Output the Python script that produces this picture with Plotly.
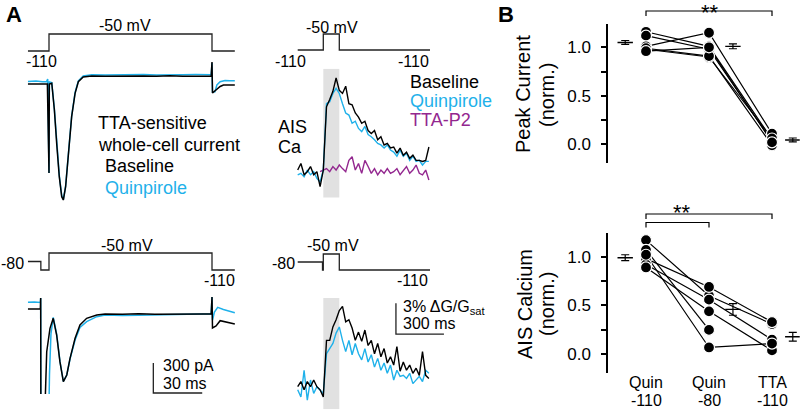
import plotly.graph_objects as go

W, H = 800, 410
FONT = "Liberation Sans, Arial, sans-serif"
BLUE = "#1fb1ea"
PURPLE = "#93278f"
GRAY = "#e1e1e1"
PROTO = "#222222"

# ---------------- DATA ----------------
# Panel A, top-left: TTA-sensitive whole-cell current (time ms, current pA)
ephys1_black_t = [-13, -8, -4, -1, 0, 0.2, 1.7, 3.3, 4.7, 6.3, 7.8, 8.8, 10.2, 11.8, 13.9, 16, 18, 21, 26.2,
                  34.4, 42, 50, 58, 66, 74, 82, 90, 99.5, 100, 100.3, 101, 102.9, 105, 107, 110, 113, 114]
ephys1_black_i = [-110, -112, -108, -110, -1000, -110, -103, -370, -703, -1037, -1237, -1270, -1137, -803, -437,
                  -203, -87, -40, -30, -32, -30, -34, -29, -32, -28, -33, -30, -31, 110, -200, -190, -163, -135,
                  -120, -118, -122, -120]
ephys1_blue_t = [-13, -8, -4, -1.5, -0.8, 0, 0.2, 1.7, 3.3, 4.7, 6.3, 7.8, 8.8, 10.2, 11.8, 13.9, 16, 18, 21,
                 26.2, 34.4, 42, 50, 58, 66, 74, 82, 90, 99.5, 100, 100.3, 101.8, 103, 105, 108, 111, 114]
ephys1_blue_i = [-85, -80, -88, -85, -60, -1000, -90, -95, -360, -690, -1020, -1225, -1265, -1130, -800, -430,
                 -195, -80, -30, -18, -20, -17, -21, -16, -19, -15, -18, -16, -17, 100, -190, -187, -120, -87, -75,
                 -78, -77]

# Panel A, bottom-left (offscale values below the visible range)
ephys2_black_t = [-13, -9, -5.3, -5.1, -5.0, -2.4, -1.4, 0.6, 2.6, 4.7, 6.7, 8.8, 10.9, 12.9, 16, 19, 23.1, 29.3,
                  34.4, 45, 55, 65, 75, 85, 95, 99.5, 100, 100.3, 102.5, 105, 109, 114]
ephys2_black_i = [50, 48, 50, 160, -900, -900, -377, -143, -43, -210, -477, -677, -610, -443, -243, -110, -43,
                  -10, 0, -3, 2, -2, 1, -1, 0, 0, 170, -140, -120, -67, -85, -100]
ephys2_blue_t = [-13, -9, -5.3, -5.1, -5.0, 0, 0.3, 1.2, 2.6, 4.7, 6.7, 8.8, 10.9, 12.9, 16, 19, 23.1, 29.3,
                 34.4, 45, 55, 65, 75, 85, 95, 99.5, 100, 100.3, 101.5, 103.5, 107, 114]
ephys2_blue_i = [117, 120, 115, 160, -900, -900, -600, -200, -33, -200, -470, -675, -610, -450, -260, -135, -77,
                 -27, -10, -15, -12, -8, -3, -2, 0, 2, 170, -60, 20, 67, 45, 13]

# Voltage protocols (ms, mV)
proto_e1_t = [-13, 0, 0, 100, 100, 114]
proto_e1_v = [-110, -110, -50, -50, -110, -110]
proto_e2_t = [-13, -5, -5, 0, 0, 100, 100, 114]
proto_e2_v = [-80, -80, -110, -110, -50, -50, -110, -110]
proto_c1_t = [-160, 0, 0, 100, 100, 667]
proto_c1_v = [-110, -110, -50, -50, -110, -110]
proto_c2_t = [-160, -5, -5, 0, 0, 100, 100, 667]
proto_c2_v = [-80, -80, -110, -110, -50, -50, -110, -110]
PULSE_MS = [0, 100]

# AIS calcium (% dG/Gsat), sampled every 20 ms from -160 ms
ca_t = list(range(-160, 661, 20))
ca1_black = [0.16, 0.8, -0.3, 0.0, 0.5, -0.3, 0.0, -1.45, 0.16, 6.3, 7.0, 7.8, 9.1, 7.9, 7.6, 8.3, 6.6, 6.5, 5.7,
             5.3, 4.7, 4.9, 4.0, 3.7, 4.0, 3.1, 3.4, 2.6, 2.75, 2.3, 2.4, 1.8, 2.3, 1.6, 1.9, 1.3, 1.6, 1.1, 1.1,
             1.0, 1.1, 2.4]
ca1_blue = [-0.3, -0.16, -0.5, 0.16, -0.3, 0, -0.65, -1.0, 0.16, 6.6, 6.8, 7.6, 8.1, 7.6, 6.6, 5.7, 5.5, 4.7, 4.9,
            4.2, 3.9, 4.4, 3.6, 3.4, 3.1, 2.75, 2.6, 2.3, 2.6, 2.1, 1.9, 1.5, 2.1, 1.5, 1.8, 1.1, 1.5, 1.0, 1.1,
            0.65, 1.0, 1.0]
ca1_purple_t = list(range(-20, 661, 20))
ca1_purple = [0.0, 0.16, 0.3, 0, 0.5, 0.16, 0.65, 0.3, 0, 1.1, 1.45, 0.16, 0.8, -0.16, 1.1, 0.5, -0.16, 0.3, -0.3,
              0.16, -0.16, 0.3, -0.16, 0, 0.3, -0.3, 0.16, 0.5, -0.16, 0.16, 0.65, -0.16, -0.3, 0.16, -0.8]
ca2_black = [0, 0.5, -0.3, 0.5, 0, 0.65, 0, -0.3, -1.0, 4.5, 4.5, 5.8, 6.5, 7.4, 7.8, 6.3, 6.5, 5.7, 4.5, 5.3,
             4.4, 5.5, 4.0, 4.5, 3.2, 4.2, 2.9, 3.7, 2.3, 2.9, 2.1, 3.9, 1.5, 2.4, 1.6, 2.1, 1.3, 1.8, 1.1, 3.4,
             1.1, 0.8]
ca2_blue = [-0.3, -1.0, 1.6, -1.3, 0.65, -0.65, 0, -0.3, -0.65, 3.2, 3.7, 4.2, 5.2, 5.8, 4.5, 3.4, 4.5, 3.1, 4.2,
            3.2, 2.6, 3.7, 2.4, 3.1, 1.9, 2.75, 1.6, 2.3, 1.3, 2.1, 0.65, 1.6, 1.0, 1.1, 0.8, 1.3, 0.3, 0.65, 1.0,
            0.5, 1.6, 1.3]

# Scale bars
EPHYS_SCALE_MS, EPHYS_SCALE_PA = 30, 300
CA_SCALE_MS, CA_SCALE_PCT = 300, 3

# Panel B
categories = [1, 2, 3]
cat_line1 = ["Quin", "Quin", "TTA"]
cat_line2 = ["-110", "-80", "-110"]
peak_quin110 = [1.16, 1.12, 1.01, 0.98, 0.99, 0.96]
peak_quin80 = [1.01, 0.98, 1.15, 0.90, 0.91, 1.00]
peak_tta = [0.05, 0.03, 0.11, 0.06, -0.01, 0.02]
peak_mean = [1.05, 1.01, 0.045]
peak_sem = [0.02, 0.025, 0.02]
ca_quin110 = [1.17, 1.07, 0.98, 0.92, 0.89, 1.02]
ca_quin80 = [0.60, 0.25, 0.69, 0.56, 0.44, 0.07]
ca_tta = [0.31, None, 0.33, 0.15, 0.04, 0.11]
ca_mean = [0.99, 0.46, 0.18]
ca_sem = [0.03, 0.06, 0.045]
MEAN_OFFSET = [-0.33, 0.38, 0.33]


# ---------------- LAYOUT HELPERS ----------------
def xdom(a_val, a_px, ppu, rng):
    return [(a_px + (rng[0] - a_val) * ppu) / W, (a_px + (rng[1] - a_val) * ppu) / W]


def ydom(a_val, a_px, ppu, rng):
    p0 = a_px - (rng[0] - a_val) * ppu
    p1 = a_px - (rng[1] - a_val) * ppu
    return [1 - p0 / H, 1 - p1 / H]


E_XR = [-13, 116]
C_XR = [-170, 770]
P_YR = [-120, -40]
B_XR = [0.4, 3.44]
B_YR = [-0.19, 1.24]

E_XD = xdom(0, 49, 1.63, E_XR)
C_XD = xdom(0, 323.3, 0.16, C_XR)
B_XD = xdom(1, 646, 63, B_XR)

axes = {
    1: (E_XD, E_XR, ydom(0, 73, 0.1, [-1300, 150]), [-1300, 150]),
    2: (E_XD, E_XR, ydom(-110, 51, 0.2833, P_YR), P_YR),
    3: (C_XD, C_XR, ydom(0, 171.7, 10.3, [-3, 10]), [-3, 10]),
    4: (C_XD, C_XR, ydom(-110, 50, 0.2667, P_YR), P_YR),
    5: (E_XD, E_XR, ydom(0, 314, 0.1, [-800, 200]), [-800, 200]),
    6: (E_XD, E_XR, ydom(-110, 270, 0.2833, P_YR), P_YR),
    7: (C_XD, C_XR, ydom(0, 386.7, 10.3, [-2.2, 10]), [-2.2, 10]),
    8: (C_XD, C_XR, ydom(-110, 270, 0.2667, P_YR), P_YR),
    9: (B_XD, B_XR, ydom(0, 144.3, 97, B_YR), B_YR),
    10: (B_XD, B_XR, ydom(0, 354.3, 97.6, B_YR), B_YR),
}

layout = dict(width=W, height=H, margin=dict(l=0, r=0, t=0, b=0), paper_bgcolor="white",
              plot_bgcolor="rgba(0,0,0,0)", showlegend=False, font=dict(family=FONT, color="black"))
for k, (xd, xr, yd, yr) in axes.items():
    sx = "" if k == 1 else str(k)
    layout["xaxis" + sx] = dict(domain=xd, range=xr, visible=False, fixedrange=True, anchor="y" + sx)
    if k in (9, 10):
        layout["yaxis" + sx] = dict(domain=yd, range=yr, anchor="x" + sx, showline=True, linewidth=1.6,
                                    linecolor="black", ticks="outside", ticklen=5, tickwidth=1.6,
                                    tickcolor="black", tickvals=[0, 0.5, 1], ticktext=["0.0", "0.5", "1.0"],
                                    tickfont=dict(size=17, family=FONT), showgrid=False, zeroline=False,
                                    ticklabelstandoff=7, fixedrange=True,
                                    minor=dict(tickvals=[0.25, 0.75], ticks="outside", ticklen=5,
                                               tickwidth=1.6, tickcolor="black", showgrid=False))
    else:
        layout["yaxis" + sx] = dict(domain=yd, range=yr, visible=False, fixedrange=True, anchor="x" + sx)


def ax(k):
    return ("x", "y") if k == 1 else ("x" + str(k), "y" + str(k))


traces = []


def line(k, x, y, color, width=1.4):
    xa, ya = ax(k)
    traces.append(go.Scatter(x=x, y=y, xaxis=xa, yaxis=ya, mode="lines", hoverinfo="skip",
                             line=dict(color=color, width=width), connectgaps=False))


# protocols
line(2, proto_e1_t, proto_e1_v, PROTO, 1.3)
line(4, proto_c1_t, proto_c1_v, PROTO, 1.3)
line(6, proto_e2_t, proto_e2_v, PROTO, 1.3)
line(8, proto_c2_t, proto_c2_v, PROTO, 1.3)
# ephys traces
line(1, ephys1_blue_t, ephys1_blue_i, BLUE, 1.5)
line(1, ephys1_black_t, ephys1_black_i, "black", 1.5)
line(5, ephys2_blue_t, ephys2_blue_i, BLUE, 1.5)
line(5, ephys2_black_t, ephys2_black_i, "black", 1.5)
# calcium traces
line(3, ca1_purple_t, ca1_purple, PURPLE, 1.4)
line(3, ca_t, ca1_blue, BLUE, 1.4)
line(3, ca_t, ca1_black, "black", 1.4)
line(7, ca_t, ca2_blue, BLUE, 1.4)
line(7, ca_t, ca2_black, "black", 1.4)

# scale bars
e0t, e0i = 64, -790
line(5, [e0t, e0t, e0t + EPHYS_SCALE_MS], [e0i + EPHYS_SCALE_PA, e0i, e0i], "#222222", 1.3)
c0t, c0v = 454, 5.1
line(7, [c0t, c0t, c0t + CA_SCALE_MS], [c0v + CA_SCALE_PCT, c0v, c0v], "#222222", 1.3)

# panel B
for k, q110, q80, tta, mean, sem in [(9, peak_quin110, peak_quin80, peak_tta, peak_mean, peak_sem),
                                     (10, ca_quin110, ca_quin80, ca_tta, ca_mean, ca_sem)]:
    xa, ya = ax(k)
    for a, b, c in zip(q110, q80, tta):
        traces.append(go.Scatter(x=categories, y=[a, b, c], xaxis=xa, yaxis=ya, mode="lines",
                                 line=dict(color="black", width=1.2), hoverinfo="skip"))
    for cat, vals in zip(categories, [q110, q80, tta]):
        pts = [v for v in vals if v is not None]
        traces.append(go.Scatter(x=[cat] * len(pts), y=pts, xaxis=xa, yaxis=ya, mode="markers",
                                 marker=dict(symbol="circle", size=11, color="black",
                                             line=dict(color="white", width=1.2)), hoverinfo="skip"))
    traces.append(go.Scatter(x=[c + o for c, o in zip(categories, MEAN_OFFSET)], y=mean, xaxis=xa, yaxis=ya,
                             mode="markers", hoverinfo="skip",
                             marker=dict(symbol="line-ew", size=11, line=dict(color="black", width=1.4)),
                             error_y=dict(type="data", array=sem, width=4, thickness=1.2, color="black")))

fig = go.Figure(data=traces)

shapes = [
    dict(type="rect", xref="x3", yref="y3", x0=PULSE_MS[0], x1=PULSE_MS[1], y0=-2.5, y1=10,
         fillcolor=GRAY, line_width=0, layer="below"),
    dict(type="rect", xref="x7", yref="y7", x0=PULSE_MS[0], x1=PULSE_MS[1], y0=-2.2, y1=8.6,
         fillcolor=GRAY, line_width=0, layer="below"),
]


def bracket(xref, xa, xb, ytop_px, ytick_px):
    yt, yb = 1 - ytop_px / H, 1 - ytick_px / H
    return dict(type="path", xref=xref, yref="paper",
                path=f"M {xa},{yb} L {xa},{yt} L {xb},{yt} L {xb},{yb}",
                line=dict(color="black", width=1.2))


shapes.append(bracket("x9", 1, 3, 11, 16))
shapes.append(bracket("x10", 1, 3, 214, 219))
shapes.append(bracket("x10", 1, 2, 222.5, 227.5))

annotations = []


def ann(text, x, y, anchor="center", size=16, color="black", angle=0):
    annotations.append(dict(text=text, x=x / W, y=1 - y / H, xref="paper", yref="paper", xanchor=anchor,
                            yanchor="middle", showarrow=False, textangle=angle,
                            font=dict(size=size, color=color, family=FONT)))


ann("<b>A</b>", 4, 14, "left", 22)
ann("<b>B</b>", 496, 14, "left", 22)
ann("-50 mV", 125, 25)
ann("-110", 41, 61)
ann("TTA-sensitive", 96, 123, "left", 18)
ann("whole-cell current", 96, 145, "left", 18)
ann("Baseline", 103, 166, "left", 18)
ann("Quinpirole", 103, 188, "left", 18, BLUE)
ann("-50 mV", 332, 27)
ann("-110", 290, 61)
ann("-110", 413, 61)
ann("AIS", 276, 127, "left", 18)
ann("Ca", 276, 147, "left", 18)
ann("Baseline", 408, 82, "left", 18)
ann("Quinpirole", 408, 101, "left", 18, BLUE)
ann("TTA-P2", 408, 120, "left", 18, PURPLE)
ann("-80", 26, 263, "right")
ann("-50 mV", 127, 245)
ann("-110", 219, 280)
ann("300 pA", 161, 365, "left")
ann("30 ms", 161, 383, "left")
ann("-80", 283, 263)
ann("-50 mV", 333, 245)
ann("-110", 412, 280)
ann("3% ΔG/G<sub>sat</sub>", 401, 307, "left")
ann("300 ms", 401, 323, "left")
ann("Peak Current", 523, 94, size=20, angle=-90)
ann("(norm.)", 547, 95, size=20, angle=-90)
ann("AIS Calcium", 525, 304, size=20, angle=-90)
ann("(norm.)", 547, 304, size=20, angle=-90)
ann("**", 710, 12, size=22)
ann("**", 682, 212, size=22)
for c, l1, l2 in zip(categories, cat_line1, cat_line2):
    annotations.append(dict(text=l1, x=c, y=1 - 382 / H, xref="x10", yref="paper", showarrow=False,
                            yanchor="middle", font=dict(size=16, family=FONT)))
    annotations.append(dict(text=l2, x=c, y=1 - 400 / H, xref="x10", yref="paper", showarrow=False,
                            yanchor="middle", font=dict(size=16, family=FONT)))

layout["shapes"] = shapes
layout["annotations"] = annotations
fig.update_layout(**layout)
fig.write_html("out.html", config={"displayModeBar": False},
               post_script="document.body.style.margin='0';document.body.style.padding='0';")
